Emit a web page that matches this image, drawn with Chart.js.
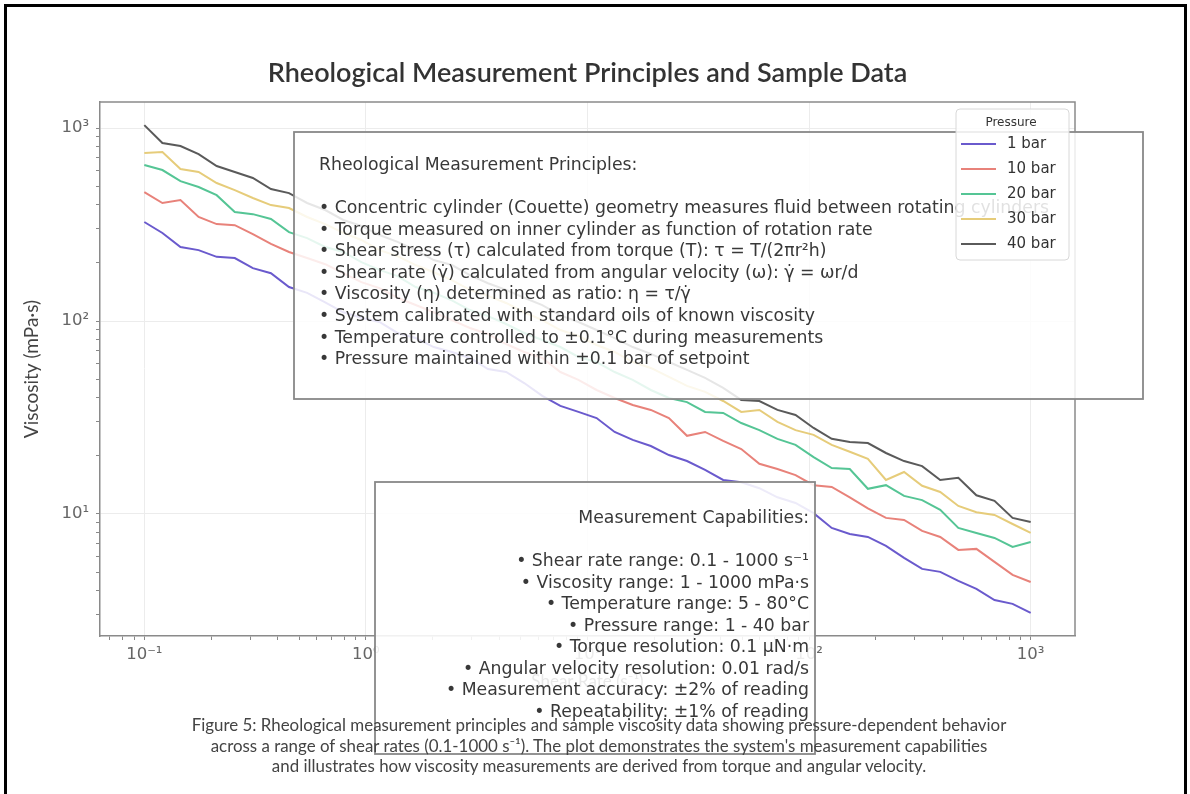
<!DOCTYPE html>
<html>
<head>
<meta charset="utf-8">
<script src="https://cdn.jsdelivr.net/npm/chart.js@4.4.1/dist/chart.umd.min.js"></script>
<style>
    html, body { margin: 0; padding: 0; background: #fff; }
    #wrap { position: relative; width: 1190px; height: 794px; overflow: hidden; }
    #caption {
        position: absolute; left: 4px; top: 715px; width: 1190px;
        text-align: center; font-family: Lato, 'Open Sans', sans-serif;
        font-size: 16.9px; line-height: 20.5px; color: #444; white-space: nowrap;
    }
</style>
</head>
<body>
<div id="wrap">
    <canvas id="rheoChart" width="1190" height="794"></canvas>
    <div id="caption">
        Figure 5: Rheological measurement principles and sample viscosity data showing pressure-dependent behavior<br>
        across a range of shear rates (0.1-1000 s⁻¹). The plot demonstrates the system's measurement capabilities<br>
        and illustrates how viscosity measurements are derived from torque and angular velocity.
    </div>
</div>
<script>
// --- DADOS ---
const shearRates = [0.1, 0.1207, 0.1456, 0.1758, 0.2121, 0.256, 0.3089, 0.3728, 0.4498, 0.5429,
    0.6551, 0.7906, 0.9541, 1.151, 1.389, 1.677, 2.024, 2.442, 2.947, 3.556,
    4.292, 5.179, 6.251, 7.543, 9.103, 10.99, 13.26, 16.0, 19.31, 23.3,
    28.12, 33.93, 40.95, 49.42, 59.64, 71.97, 86.85, 104.8, 126.5, 152.6,
    184.2, 222.3, 268.3, 323.7, 390.7, 471.5, 568.9, 686.6, 828.6, 1000];

const visc1bar = [326, 286, 242, 233, 215, 212, 188, 177, 150, 140,
    125, 111, 104, 98.8, 86.7, 81.6, 73.3, 69.1, 64.3, 56.4,
    54.4, 47.7, 40.9, 36.3, 33.8, 31.4, 26.6, 24.2, 22.5, 20.2,
    18.8, 16.9, 15.0, 14.6, 13.6, 12.2, 11.4, 10.1, 8.46, 7.88,
    7.60, 6.83, 5.92, 5.19, 5.01, 4.50, 4.09, 3.58, 3.42, 3.07];
const visc10bar = [466, 409, 424, 346, 318, 314, 282, 251, 228, 212,
    197, 177, 159, 148, 132, 121, 111, 101, 92.0, 85.6,
    76.0, 69.1, 64.3, 54.4, 49.5, 43.9, 39.9, 36.7, 34.6, 31.4,
    25.4, 26.6, 23.9, 21.7, 18.2, 17.1, 15.9, 14.1, 13.8, 12.2,
    10.7, 9.54, 9.31, 8.17, 7.60, 6.51, 6.59, 5.64, 4.83, 4.44];
const visc20bar = [643, 606, 531, 495, 449, 367, 358, 338, 289, 269,
    242, 228, 202, 184, 171, 150, 140, 128, 114, 106,
    96.5, 86.7, 79.7, 73.3, 65.1, 61.3, 54.4, 49.5, 43.9, 39.9,
    38.0, 33.8, 33.4, 29.6, 27.2, 24.5, 22.8, 19.7, 17.3, 17.1,
    13.5, 14.1, 12.4, 11.8, 10.5, 8.46, 7.97, 7.51, 6.75, 7.16];
const visc30bar = [742, 751, 613, 592, 519, 477, 434, 399, 385, 346,
    318, 286, 263, 233, 217, 195, 179, 163, 145, 135,
    124, 111, 101, 89.8, 83.6, 75.1, 69.1, 61.3, 57.1, 51.3,
    46.1, 42.9, 38.5, 33.8, 34.6, 30.0, 27.2, 25.7, 22.8, 21.0,
    19.3, 15.0, 16.5, 14.0, 13.0, 11.0, 10.2, 9.88, 8.87, 7.97];
const visc40bar = [1036, 836, 807, 733, 636, 592, 551, 483, 460, 409,
    376, 334, 311, 279, 257, 233, 207, 195, 173, 157,
    145, 132, 121, 107, 98.8, 89.8, 81.6, 73.3, 67.5, 61.3,
    55.8, 50.7, 45.0, 39.0, 38.5, 34.6, 32.6, 27.9, 24.5, 23.6,
    23.3, 20.7, 18.8, 17.7, 15.0, 15.4, 12.5, 11.7, 9.54, 9.09];

const pressureLabels = ['1 bar', '10 bar', '20 bar', '30 bar', '40 bar'];
const pressureSeries = [visc1bar, visc10bar, visc20bar, visc30bar, visc40bar];
const seriesColors = ['#6a5acd', '#e8827a', '#55c595', '#e6cc7a', '#5a5a5a'];

const chartTitle = 'Rheological Measurement Principles and Sample Data';

const principlesTitle = 'Rheological Measurement Principles:';
const principlesLines = [
    '• Concentric cylinder (Couette) geometry measures fluid between rotating cylinders',
    '• Torque measured on inner cylinder as function of rotation rate',
    '• Shear stress (τ) calculated from torque (T): τ = T/(2πr²h)',
    '• Shear rate (γ̇) calculated from angular velocity (ω): γ̇ = ωr/d',
    '• Viscosity (η) determined as ratio: η = τ/γ̇',
    '• System calibrated with standard oils of known viscosity',
    '• Temperature controlled to ±0.1°C during measurements',
    '• Pressure maintained within ±0.1 bar of setpoint'
];
const capabilitiesTitle = 'Measurement Capabilities:';
const capabilitiesLines = [
    '• Shear rate range: 0.1 - 1000 s⁻¹',
    '• Viscosity range: 1 - 1000 mPa·s',
    '• Temperature range: 5 - 80°C',
    '• Pressure range: 1 - 40 bar',
    '• Torque resolution: 0.1 μN·m',
    '• Angular velocity resolution: 0.01 rad/s',
    '• Measurement accuracy: ±2% of reading',
    '• Repeatability: ±1% of reading'
];

// --- TICKS LOG (maiores + menores 2..9) ---
function logTicks(min, max) {
    const out = [];
    for (let e = Math.floor(Math.log10(min)); e <= Math.ceil(Math.log10(max)); e++) {
        for (let m = 1; m <= 9; m++) {
            const v = m * Math.pow(10, e);
            if (v >= min && v <= max) out.push(v);
        }
    }
    return out;
}
const SUP = {'-': '⁻', '0': '⁰', '1': '¹', '2': '²', '3': '³', '4': '⁴', '5': '⁵', '6': '⁶', '7': '⁷', '8': '⁸', '9': '⁹'};
function isPow10(v) {
    if (!v) return false;
    const l = Math.log10(v);
    return Math.abs(l - Math.round(l)) < 1e-6;
}
function powLabel(v) {
    if (!isPow10(v)) return '';
    const e = Math.round(Math.log10(v));
    return '10' + String(e).split('').map(c => SUP[c]).join('');
}

const X_MIN = 0.0631, X_MAX = 1585, Y_MIN = 2.33, Y_MAX = 1365;

// --- TITULO, CAIXAS DE TEXTO E LEGENDA ---
const overlayPlugin = {
    id: 'overlayBoxes',
    afterDatasetsDraw(chart) {
        const ctx = chart.ctx;
        const a = chart.chartArea;
        ctx.save();
        // titulo centrado sobre a area do grafico
        ctx.fillStyle = '#333';
        ctx.font = '600 27px Lato';
        ctx.textAlign = 'center';
        ctx.textBaseline = 'middle';
        ctx.fillText(chartTitle, (a.left + a.right) / 2, 73);

        // moldura superior e direita
        ctx.strokeStyle = '#8a8a8a';
        ctx.lineWidth = 1.5;
        ctx.beginPath();
        ctx.moveTo(a.left, a.top);
        ctx.lineTo(a.right, a.top);
        ctx.lineTo(a.right, a.bottom);
        ctx.stroke();

        // caixa de principios
        ctx.fillStyle = 'rgba(255,255,255,0.85)';
        ctx.fillRect(294, 132, 849, 267);
        ctx.strokeStyle = '#888';
        ctx.lineWidth = 1.8;
        ctx.strokeRect(294, 132, 849, 267);
        ctx.fillStyle = '#383838';
        ctx.font = '17.3px "DejaVu Sans"';
        ctx.textAlign = 'left';
        ctx.fillText(principlesTitle, 319, 165.5);
        principlesLines.forEach((t, i) => ctx.fillText(t, 319, 208.5 + i * 21.6));

        // caixa de capacidades
        ctx.fillStyle = 'rgba(255,255,255,0.88)';
        ctx.fillRect(375, 482, 440, 272);
        ctx.strokeStyle = '#888';
        ctx.strokeRect(375, 482, 440, 272);
        ctx.fillStyle = '#383838';
        ctx.textAlign = 'right';
        ctx.fillText(capabilitiesTitle, 809, 519);
        capabilitiesLines.forEach((t, i) => ctx.fillText(t, 809, 562 + i * 21.5));

        // legenda
        ctx.fillStyle = 'rgba(255,255,255,0.85)';
        ctx.strokeStyle = '#d8d8d8';
        ctx.lineWidth = 1;
        ctx.beginPath();
        ctx.roundRect(956, 109, 113, 151, 4);
        ctx.fill();
        ctx.stroke();
        ctx.fillStyle = '#333';
        ctx.textAlign = 'center';
        ctx.font = '12px "DejaVu Sans"';
        ctx.fillText('Pressure', 1011, 123);
        ctx.font = '15px "DejaVu Sans"';
        ctx.textAlign = 'left';
        chart.data.datasets.forEach((ds, i) => {
            const y = 144 + i * 25;
            ctx.strokeStyle = ds.borderColor;
            ctx.lineWidth = 2;
            ctx.beginPath();
            ctx.moveTo(961, y);
            ctx.lineTo(996, y);
            ctx.stroke();
            ctx.fillStyle = '#333';
            ctx.fillText(ds.label, 1007, y);
        });
        ctx.restore();
    },
    afterDraw(chart) {
        const ctx = chart.ctx;
        ctx.save();
        ctx.strokeStyle = '#000';
        ctx.lineWidth = 3;
        ctx.beginPath();
        ctx.moveTo(5.5, 794);
        ctx.lineTo(5.5, 5.5);
        ctx.lineTo(1185.5, 5.5);
        ctx.lineTo(1185.5, 794);
        ctx.stroke();
        ctx.restore();
    }
};

const gridOpts = {
    color: ctx => (ctx.tick && isPow10(ctx.tick.value)) ? '#ececec' : 'rgba(0,0,0,0)',
    tickColor: '#888',
    tickLength: 4,
    drawTicks: true
};

const chart = new Chart(document.getElementById('rheoChart').getContext('2d'), {
    type: 'line',
    data: {
        datasets: pressureLabels.map((label, i) => ({
            label: label,
            data: shearRates.map((x, j) => ({ x: x, y: pressureSeries[i][j] })),
            borderColor: seriesColors[i],
            borderWidth: 2,
            pointRadius: 0,
            tension: 0,
            fill: false
        }))
    },
    options: {
        responsive: false,
        animation: false,
        layout: { padding: { left: 0, right: 115, top: 102, bottom: 0 } },
        plugins: {
            legend: { display: false },
            tooltip: { enabled: false },
            title: { display: false }
        },
        scales: {
            x: {
                type: 'logarithmic',
                min: X_MIN,
                max: X_MAX,
                afterBuildTicks: s => { s.ticks = logTicks(X_MIN, X_MAX).map(v => ({ value: v })); },
                afterFit: s => { s.height = 158; },
                ticks: {
                    autoSkip: false, maxRotation: 0, padding: 5,
                    color: '#666', font: { family: 'DejaVu Sans', size: 16.5 },
                    callback: v => powLabel(v)
                },
                grid: gridOpts,
                border: { display: true, color: '#8a8a8a', width: 1.5 },
                title: {
                    display: true, text: 'Shear Rate (s⁻¹)', color: '#444',
                    font: { family: 'Lato', size: 17 }, padding: { top: 0, bottom: 102 }
                }
            },
            y: {
                type: 'logarithmic',
                min: Y_MIN,
                max: Y_MAX,
                afterBuildTicks: s => { s.ticks = logTicks(Y_MIN, Y_MAX).map(v => ({ value: v })); },
                afterFit: s => { s.width = 100; },
                ticks: {
                    autoSkip: false, padding: 7,
                    color: '#666', font: { family: 'DejaVu Sans', size: 16.5 },
                    callback: v => powLabel(v)
                },
                grid: gridOpts,
                border: { display: true, color: '#8a8a8a', width: 1.5 },
                title: {
                    display: true, text: 'Viscosity (mPa·s)', color: '#444',
                    font: { family: 'Lato', size: 19 }, padding: { top: 20, bottom: 0 }
                }
            }
        }
    },
    plugins: [overlayPlugin]
});
</script>
</body>
</html>
